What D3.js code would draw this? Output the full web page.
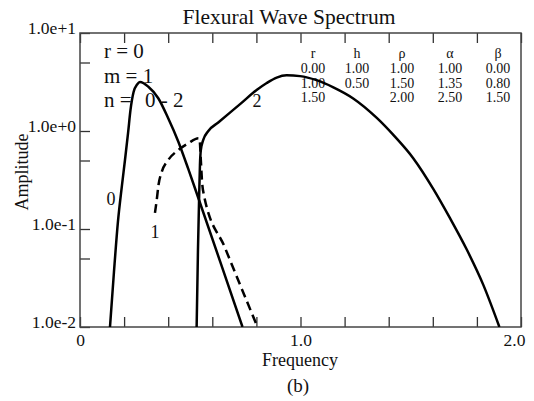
<!DOCTYPE html>
<html>
<head>
<meta charset="utf-8">
<script src="https://cdn.jsdelivr.net/npm/d3@7"></script>
<style>
  body { margin: 0; background: #fff; }
  text { font-family: "Liberation Serif", "Times New Roman", serif; fill: #111; }
</style>
</head>
<body>
<div id="chart"></div>
<script>
// n = 0 curve (solid)
var freq0 = [0.136, 0.154, 0.172, 0.190, 0.204, 0.218, 0.229, 0.243, 0.259, 0.272, 0.310, 0.355, 0.400, 0.446, 0.491, 0.537, 0.635, 0.737]
var amp0  = [0.010, 0.0364, 0.118, 0.275, 0.506, 0.955, 1.64, 2.50, 2.98, 3.16, 2.83, 2.16, 1.35, 0.778, 0.410, 0.206, 0.047, 0.010]

// n = 1 curve (dashed)
var freq1 = [0.340, 0.348, 0.356, 0.371, 0.400, 0.446, 0.491, 0.537, 0.542, 0.548, 0.553, 0.562, 0.658, 0.805]
var amp1  = [0.146, 0.198, 0.281, 0.385, 0.506, 0.640, 0.749, 0.843, 0.828, 0.506, 0.316, 0.222, 0.064, 0.010]

// n = 2 curve (solid)
var freq2 = [0.529, 0.535, 0.540, 0.544, 0.548, 0.559, 0.582, 0.627, 0.726, 0.801, 0.847, 0.892, 0.937, 0.998, 1.073, 1.149, 1.239, 1.346, 1.421, 1.512, 1.602, 1.678, 1.754, 1.829, 1.902]
var amp2  = [0.010, 0.061, 0.198, 0.450, 0.640, 0.810, 1.00, 1.22, 1.88, 2.62, 3.09, 3.51, 3.70, 3.63, 3.30, 2.79, 2.15, 1.36, 0.912, 0.525, 0.257, 0.129, 0.0617, 0.0269, 0.010]

var xTicks = [0, 0.2, 0.4, 0.6, 0.8, 1.0, 1.2, 1.4, 1.6, 1.8, 2.0]
var xTickLabels = {0: "0", 1: "1.0", 2: "2.0"}
var yTicks = [0.01, 0.05, 0.1, 0.5, 1, 5, 10]
var yTickLabels = {0.01: "1.0e-2", 0.1: "1.0e-1", 1: "1.0e+0", 10: "1.0e+1"}

// parameter table
var tableHeads = ["r", "h", "\u03C1", "\u03B1", "\u03B2"]
var tableRows = [
    ["0.00", "1.00", "1.00", "1.00", "0.00"],
    ["1.00", "0.50", "1.50", "1.35", "0.80"],
    ["1.50", "",     "2.00", "2.50", "1.50"]
]

var width = 534
var height = 401
var plotLeft = 80, plotRight = 521, plotTop = 33, plotBottom = 327

var svg = d3.select("#chart")
            .append("svg")
            .attr("width", width)
            .attr("height", height)

var x = d3.scaleLinear().domain([0, 2]).range([plotLeft, plotRight])
var y = d3.scaleLog().domain([0.01, 10]).range([plotBottom, plotTop])

svg.append("text")
    .attr("x", 289).attr("y", 24)
    .attr("text-anchor", "middle")
    .style("font-size", "21.5px")
    .text("Flexural Wave Spectrum")

// axes
var xAxis = svg.append("g")
    .attr("transform", "translate(0," + plotBottom + ")")
    .call(d3.axisBottom(x).tickValues(xTicks).tickSize(-10).tickPadding(7)
        .tickFormat(function(d){ return xTickLabels[d] || "" }))
xAxis.selectAll("text").style("font-size", "17.5px")
    .attr("dx", function(d){ return d == 2 ? "-7" : "0" })

svg.append("g")
    .attr("transform", "translate(0," + plotTop + ")")
    .call(d3.axisTop(x).tickValues(xTicks).tickSize(-10).tickFormat(""))

var yAxis = svg.append("g")
    .attr("transform", "translate(" + plotLeft + ",0)")
    .call(d3.axisLeft(y).tickValues(yTicks).tickSize(-10).tickPadding(4)
        .tickFormat(function(d){ return yTickLabels[d] || "" }))
yAxis.selectAll("text").style("font-size", "17.5px").attr("dy", "0.05em")

svg.selectAll(".domain").remove()
svg.selectAll(".tick line").attr("stroke", "#333").attr("stroke-width", 1.3)
svg.selectAll(".tick text").attr("fill", "#111")
    .style("font-family", "'Liberation Serif', serif")

svg.append("rect")
    .attr("x", plotLeft).attr("y", plotTop)
    .attr("width", plotRight - plotLeft).attr("height", plotBottom - plotTop)
    .attr("fill", "none").attr("stroke", "#444").attr("stroke-width", 1.5)

svg.append("text")
    .attr("transform", "translate(28,172) rotate(-90)")
    .attr("text-anchor", "middle")
    .style("font-size", "18px")
    .text("Amplitude")

svg.append("text")
    .attr("x", 300).attr("y", 366)
    .attr("text-anchor", "middle")
    .style("font-size", "18px")
    .text("Frequency")

svg.append("text")
    .attr("x", 298).attr("y", 392)
    .attr("text-anchor", "middle")
    .style("font-size", "19px")
    .text("(b)")

// annotations
var notes = svg.append("g").style("font-size", "21px")
notes.append("text").attr("x", 104).attr("y", 58).text("r = 0")
notes.append("text").attr("x", 104).attr("y", 83).text("m = 1")
notes.append("text").attr("x", 104).attr("y", 107).text("n =")
notes.append("text").attr("x", 145).attr("y", 107).text("0 - 2")

var colX = [313, 357, 402, 450, 498]
var table = svg.append("g").style("font-size", "14px").attr("text-anchor", "middle")
tableHeads.forEach(function(h, i){
    table.append("text").attr("x", colX[i]).attr("y", 58).text(h)
})
tableRows.forEach(function(row, j){
    row.forEach(function(v, i){
        table.append("text").attr("x", colX[i]).attr("y", 73 + j * 14.5).text(v)
    })
})

// curves
svg.append("clipPath").attr("id", "plotClip")
    .append("rect")
    .attr("x", plotLeft).attr("y", plotTop)
    .attr("width", plotRight - plotLeft).attr("height", plotBottom - plotTop)

var line = d3.line()
    .x(function(d){ return x(d[0]) })
    .y(function(d){ return y(d[1]) })
    .curve(d3.curveMonotoneX)

var curves = [
    {f: freq0, a: amp0, dash: null},
    {f: freq1, a: amp1, dash: "9,5"},
    {f: freq2, a: amp2, dash: null}
]

svg.append("g").attr("clip-path", "url(#plotClip)")
    .selectAll("path")
    .data(curves)
    .enter()
    .append("path")
    .attr("d", function(c){ return line(d3.zip(c.f, c.a)) })
    .attr("fill", "none")
    .attr("stroke", "#000")
    .attr("stroke-width", 2.5)
    .attr("stroke-dasharray", function(c){ return c.dash })

var curveLabels = svg.append("g").style("font-size", "18px").attr("text-anchor", "middle")
curveLabels.append("text").attr("x", 111).attr("y", 205).text("0")
curveLabels.append("text").attr("x", 155).attr("y", 238).text("1")
curveLabels.append("text").attr("x", 257).attr("y", 107).text("2")
</script>
</body>
</html>
